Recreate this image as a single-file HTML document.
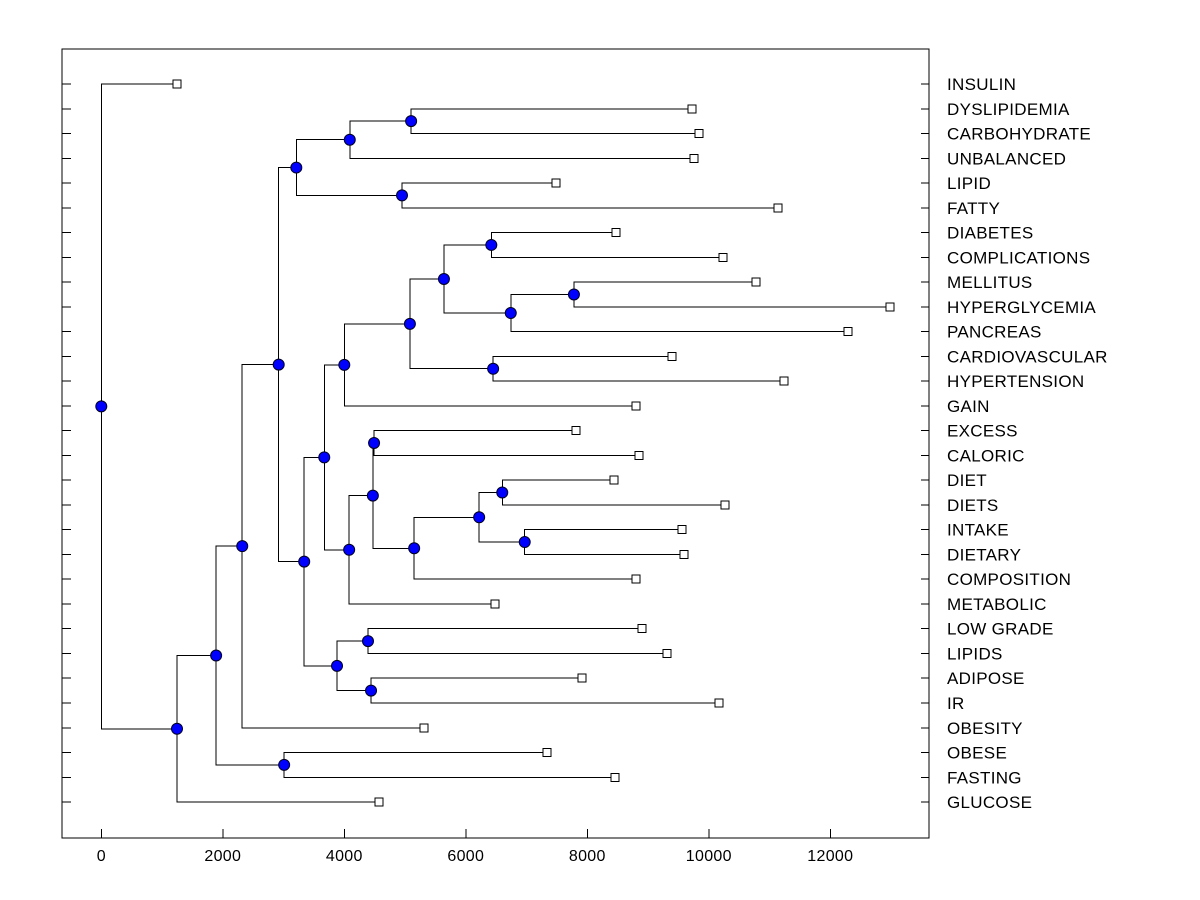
<!DOCTYPE html>
<html><head><meta charset="utf-8"><style>
html,body{margin:0;padding:0;background:#fff;}
svg{display:block;font-family:"Liberation Sans",Arial,sans-serif;}
</style></head><body>
<svg id="chart" width="1200" height="900" viewBox="0 0 1200 900">
<rect x="62" y="49" width="867" height="789" fill="none" stroke="#000" stroke-width="1" shape-rendering="crispEdges"/>
<g id="axis"></g>
<g id="yticks" shape-rendering="crispEdges"></g>
<g id="links" shape-rendering="crispEdges"></g>
<g id="marks"></g>
<g id="labels"></g>
</svg>
<script>
const labels = ["INSULIN","DYSLIPIDEMIA","CARBOHYDRATE","UNBALANCED","LIPID","FATTY","DIABETES","COMPLICATIONS","MELLITUS","HYPERGLYCEMIA","PANCREAS","CARDIOVASCULAR","HYPERTENSION","GAIN","EXCESS","CALORIC","DIET","DIETS","INTAKE","DIETARY","COMPOSITION","METABOLIC","LOW GRADE","LIPIDS","ADIPOSE","IR","OBESITY","OBESE","FASTING","GLUCOSE"];
const leafValues = [1246,9724,9840,9757,7485,11139,8472,10234,10777,12983,12292,9394,11238,8802,7814,8852,8440,10267,9559,9592,8802,6480,8901,9312,7913,10168,5312,7337,8456,4571];
const mergeLeft  = [1,30,4,31,6,8,35,34,11,37,39,14,16,18,42,44,41,46,40,22,24,49,48,33,53,27,54,56,0];
const mergeRight = [2,3,5,32,7,9,10,36,12,38,13,15,17,19,43,20,45,21,47,23,25,50,51,52,26,28,55,29,57];
const mergeHeight= [5100,4090,4950,3210,6420,7780,6740,5640,6450,5080,4000,4490,6600,6970,6220,5150,4470,4080,3670,4390,4440,3880,3340,2920,2320,3010,1890,1246,0];
const xTicks = [0,2000,4000,6000,8000,10000,12000];

const NS="http://www.w3.org/2000/svg";
const xs = v => 101.3 + v*0.06075;
const rowY = i => 84 + i*24.76;
function mk(tag, attrs, parent){const e=document.createElementNS(NS,tag);for(const k in attrs)e.setAttribute(k,attrs[k]);parent.appendChild(e);return e;}
const axis=document.getElementById('axis'), yt=document.getElementById('yticks'), links=document.getElementById('links'), marks=document.getElementById('marks'), lab=document.getElementById('labels');

xTicks.forEach(t=>{
  const x=xs(t);
  const l=mk('line',{x1:x,x2:x,y1:829,y2:838,stroke:'#000','shape-rendering':'crispEdges'},axis);
  
  
  const tx=mk('text',{x:x,y:861,'text-anchor':'middle','font-size':'16','letter-spacing':'0.3'},axis);
  tx.textContent=t;
  
  
});

const pos={};
labels.forEach((n,i)=>{
  const y=rowY(i);
  pos[i]={x:xs(leafValues[i]),y:y};
  const a=mk('line',{x1:62,x2:71,y1:y,y2:y,stroke:'#000'},yt);
  
  
  const b=mk('line',{x1:921,x2:929,y1:y,y2:y,stroke:'#000'},yt);
  
  
  const t=mk('text',{x:947,y:y+6,'font-size':'17','letter-spacing':'0.3'},lab);
  t.textContent=n;
  
  
});

const n=labels.length;
const dots=[];
mergeHeight.forEach((h,k)=>{
  const a=pos[mergeLeft[k]], b=pos[mergeRight[k]];
  const x=xs(h), y=(a.y+b.y)/2;
  pos[n+k]={x:x,y:y};
  const p=mk('path',{d:`M${a.x},${a.y}H${x}V${b.y}H${b.x}`,fill:'none',stroke:'#000','stroke-width':1},links);
  
  
  dots.push([x,y]);
});
labels.forEach((nm,i)=>{
  const r=mk('rect',{x:pos[i].x-4,y:pos[i].y-4,width:8,height:8,fill:'#fff',stroke:'#000','shape-rendering':'crispEdges'},marks);
  
  
});
dots.forEach(d=>{
  const c=mk('circle',{cx:d[0],cy:d[1],r:5.5,fill:'#0000ff',stroke:'#000020','stroke-width':1},marks);
  
  
});
</script>
</body></html>
